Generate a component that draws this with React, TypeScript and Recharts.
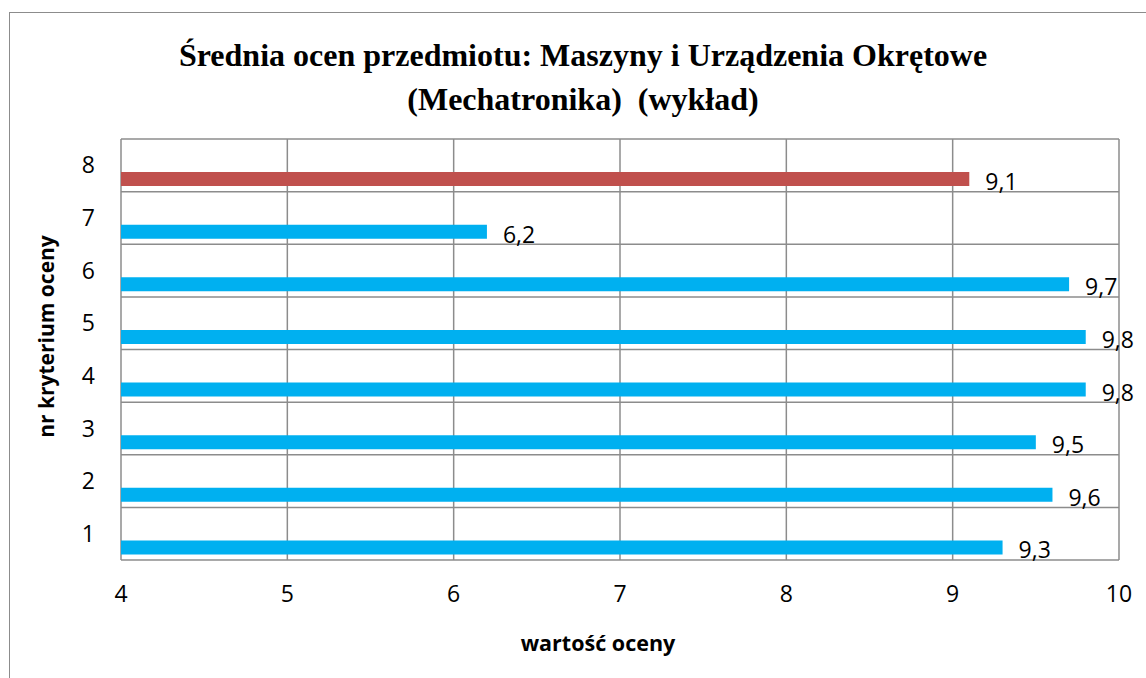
import React from 'react';
import {
  BarChart,
  Bar,
  Cell,
  XAxis,
  YAxis,
  CartesianGrid,
  LabelList,
  Label
} from 'recharts';

// nr kryterium oceny (bottom to top) and the average grade for each
const criteria = ['1', '2', '3', '4', '5', '6', '7', '8'];
const averages = [9.3, 9.6, 9.5, 9.8, 9.8, 9.7, 6.2, 9.1];
const valueTicks = [4, 5, 6, 7, 8, 9, 10];

const titleLines = [
  'Średnia ocen przedmiotu: Maszyny i Urządzenia Okrętowe',
  '(Mechatronika)  (wykład)'
];

const data = criteria.map((c, i) => ({ criterion: c, avg: averages[i] }));

const BLUE = '#00B0F0';
const RED = '#C0504D';
const GRID = '#8c8c8c';
const FONT = '"Open Sans", "Noto Sans", sans-serif';

const W = 1146;
const H = 678;
const X_AXIS_H = 30;
const Y_AXIS_W = 60;
const MARGIN = { top: 139, right: 27, bottom: 118 - X_AXIS_H, left: 121 - Y_AXIS_W };

const fmt = (v: number) => v.toFixed(1).replace('.', ',');

const ValueLabel = (props: any) => {
  const { x, y, width, height, value } = props;
  if (value == null) return null;
  return (
    <text
      x={x + width + 16}
      y={y + height / 2 + 2}
      dominantBaseline="central"
      fontSize={23}
      fontFamily={FONT}
      fill="#000"
    >
      {fmt(value)}
    </text>
  );
};

const XTitle = (props: any) => {
  const vb = props.viewBox;
  return (
    <text
      x={vb.x + vb.width / 2 - 22}
      y={vb.y + 91}
      textAnchor="middle"
      fontSize={21.5}
      fontWeight="bold"
      fontFamily={FONT}
      fill="#000"
    >
      wartość oceny
    </text>
  );
};

const YTitle = (props: any) => {
  const vb = props.viewBox;
  const cx = vb.x - 15;
  const cy = vb.y + vb.height / 2 - 13;
  return (
    <text
      x={cx}
      y={cy}
      transform={`rotate(-90 ${cx} ${cy})`}
      textAnchor="middle"
      dominantBaseline="central"
      fontSize={21}
      fontWeight="bold"
      fontFamily={FONT}
      fill="#000"
    >
      nr kryterium oceny
    </text>
  );
};

// grid rows sit on the category boundaries, like Excel does
const rowLines = ({ offset }: any) =>
  Array.from({ length: criteria.length + 1 }, (_, i) => offset.top + (i * offset.height) / criteria.length);

export default function App() {
  return (
    <div
      style={{
        position: 'absolute',
        left: 0,
        top: 0,
        width: W,
        height: H,
        overflow: 'hidden',
        background: '#fff'
      }}
    >
      <div
        style={{
          position: 'absolute',
          left: 9,
          top: 12,
          width: W + 100,
          height: H + 100,
          border: `1.5px solid ${GRID}`
        }}
      />
      <div
        style={{
          position: 'absolute',
          left: 0,
          width: 1166,
          top: 33,
          textAlign: 'center',
          fontFamily: '"Liberation Serif", "Times New Roman", serif',
          fontWeight: 'bold',
          fontSize: 32,
          lineHeight: '44px'
        }}
      >
        {titleLines.map(t => (
          <div key={t} style={{ whiteSpace: 'pre' }}>{t}</div>
        ))}
      </div>
      <div style={{ position: 'absolute', left: 0, top: 0 }}>
        <BarChart
          layout="vertical"
          width={W}
          height={H}
          data={data}
          margin={MARGIN}
          barSize={14}
          barGap={14}
        >
          <CartesianGrid
            stroke={GRID}
            strokeWidth={1.5}
            horizontalCoordinatesGenerator={rowLines}
          />
          <XAxis
            type="number"
            domain={[4, 10]}
            ticks={valueTicks}
            height={X_AXIS_H}
            axisLine={false}
            tickLine={false}
            tickSize={0}
            tickMargin={26}
            tick={{ fontSize: 23, fill: '#000', fontFamily: FONT }}
          >
            <Label content={<XTitle />} />
          </XAxis>
          <YAxis
            type="category"
            dataKey="criterion"
            reversed
            width={Y_AXIS_W}
            axisLine={false}
            tickLine={false}
            tickSize={0}
            tickMargin={26}
            tick={{ fontSize: 23, fill: '#000', fontFamily: FONT }}
          >
            <Label content={<YTitle />} />
          </YAxis>
          <Bar dataKey="spacer" isAnimationActive={false} />
          <Bar dataKey="avg" isAnimationActive={false}>
            {data.map((d, i) => (
              <Cell key={d.criterion} fill={i === criteria.length - 1 ? RED : BLUE} />
            ))}
            <LabelList dataKey="avg" content={<ValueLabel />} />
          </Bar>
        </BarChart>
      </div>
    </div>
  );
}
